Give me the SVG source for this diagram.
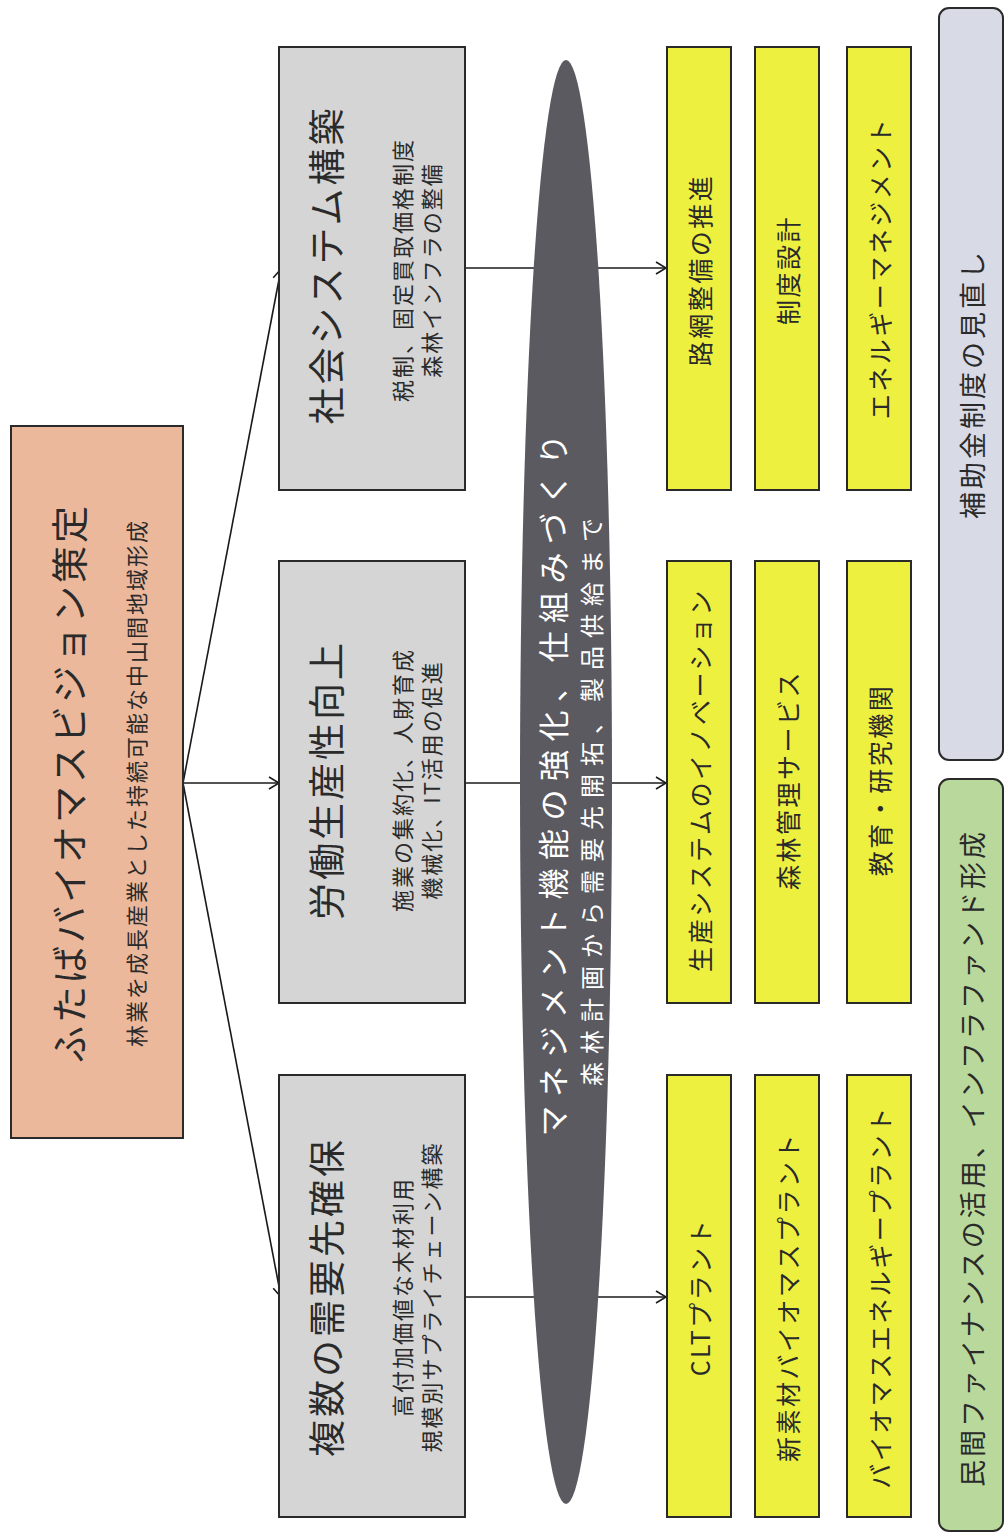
<svg xmlns="http://www.w3.org/2000/svg" width="1005" height="1535" viewBox="0 0 1005 1535">
<style>
text{font-family:"Noto Sans CJK JP","Noto Sans CJK SC",sans-serif;text-anchor:middle;dominant-baseline:central;fill:#2a2a2a}
.box{stroke:#2a2a2a;stroke-width:2}
.main{fill:#ebb89c}
.gray{fill:#d5d5d5}
.yel{fill:#eef040}
.t1{font-size:37px;letter-spacing:3px}
.t2{font-size:22px;letter-spacing:2px}
.ty{font-size:25px;letter-spacing:2.5px}
.tr{font-size:27px;letter-spacing:3px}
.conn{stroke:#1a1a1a;stroke-width:1.6;fill:none}
</style>
<defs>
<marker id="arr" markerWidth="14" markerHeight="14" refX="11" refY="7" orient="auto" markerUnits="userSpaceOnUse">
<path d="M1,1 L11,7 L1,13" fill="none" stroke="#1a1a1a" stroke-width="1.6"/>
</marker>
</defs>
<rect width="1005" height="1535" fill="#ffffff"/>
<g id="connectors">
<line class="conn" x1="183" y1="783" x2="281" y2="269" marker-end="url(#arr)"/>
<line class="conn" x1="183" y1="783" x2="279" y2="783" marker-end="url(#arr)"/>
<line class="conn" x1="183" y1="783" x2="281" y2="1297" marker-end="url(#arr)"/>
<line class="conn" x1="465" y1="268" x2="666" y2="268" marker-end="url(#arr)"/>
<line class="conn" x1="465" y1="783" x2="666" y2="783" marker-end="url(#arr)"/>
<line class="conn" x1="465" y1="1297" x2="666" y2="1297" marker-end="url(#arr)"/>
</g>
<g id="vision">
<rect class="box main" x="11" y="426" width="172" height="712"/>
<text class="t1" transform="translate(68,783) rotate(-90)">ふたばバイオマスビジョン策定</text>
<text class="t2" transform="translate(135,783) rotate(-90)">林業を成長産業とした持続可能な中山間地域形成</text>
</g>
<g id="social">
<rect class="box gray" x="279" y="47" width="186" height="443"/>
<text class="t1" transform="translate(325,265) rotate(-90)">社会システム構築</text>
<text class="t2" transform="translate(401,270) rotate(-90)">税制、固定買取価格制度</text>
<text class="t2" transform="translate(430,270) rotate(-90)">森林インフラの整備</text>
</g>
<g id="labor">
<rect class="box gray" x="279" y="561" width="186" height="442"/>
<text class="t1" transform="translate(325,780) rotate(-90)">労働生産性向上</text>
<text class="t2" transform="translate(401,780) rotate(-90)">施業の集約化、人財育成</text>
<text class="t2" transform="translate(430,780) rotate(-90)">機械化、IT活用の促進</text>
</g>
<g id="demand">
<rect class="box gray" x="279" y="1075" width="186" height="442"/>
<text class="t1" transform="translate(325,1297) rotate(-90)">複数の需要先確保</text>
<text class="t2" transform="translate(401,1297) rotate(-90)">高付加価値な木材利用</text>
<text class="t2" transform="translate(430,1297) rotate(-90)">規模別サプライチェーン構築</text>
</g>
<g id="management">
<ellipse cx="566" cy="782" rx="46" ry="722" fill="#5b5a60"/>
<text transform="translate(551,781) rotate(-90)" style="font-size:31px;letter-spacing:8.5px;fill:#ffffff">マネジメント機能の強化、仕組みづくり</text>
<text transform="translate(590,798) rotate(-90)" style="font-size:24px;letter-spacing:8px;fill:#ffffff">森林計画から需要先開拓、製品供給まで</text>
</g>
<g id="y-road"><rect class="box yel" x="667" y="47" width="64" height="443"/><text class="ty" transform="translate(699,270) rotate(-90)">路網整備の推進</text></g>
<g id="y-seido"><rect class="box yel" x="755" y="47" width="64" height="443"/><text class="ty" transform="translate(787,270) rotate(-90)">制度設計</text></g>
<g id="y-energy"><rect class="box yel" x="847" y="47" width="64" height="443"/><text class="ty" transform="translate(879,268) rotate(-90)">エネルギーマネジメント</text></g>
<g id="y-innov"><rect class="box yel" x="667" y="561" width="64" height="442"/><text class="ty" transform="translate(699,780) rotate(-90)">生産システムのイノベーション</text></g>
<g id="y-forest"><rect class="box yel" x="755" y="561" width="64" height="442"/><text class="ty" transform="translate(787,780) rotate(-90)">森林管理サービス</text></g>
<g id="y-edu"><rect class="box yel" x="847" y="561" width="64" height="442"/><text class="ty" transform="translate(879,780) rotate(-90)">教育・研究機関</text></g>
<g id="y-clt"><rect class="box yel" x="667" y="1075" width="64" height="442"/><text class="ty" transform="translate(699,1297) rotate(-90)">CLTプラント</text></g>
<g id="y-newmat"><rect class="box yel" x="755" y="1075" width="64" height="442"/><text class="ty" transform="translate(787,1297) rotate(-90)">新素材バイオマスプラント</text></g>
<g id="y-bioenergy"><rect class="box yel" x="847" y="1075" width="64" height="442"/><text class="ty" transform="translate(879,1297) rotate(-90)">バイオマスエネルギープラント</text></g>
<g id="subsidy">
<rect class="box" x="939" y="8" width="64" height="752" rx="10" fill="#d8dae6"/>
<text class="tr" transform="translate(971,384) rotate(-90)">補助金制度の見直し</text>
</g>
<g id="finance">
<rect class="box" x="939" y="779" width="64" height="752" rx="10" fill="#b9d89b"/>
<text class="tr" transform="translate(971,1158) rotate(-90)">民間ファイナンスの活用、インフラファンド形成</text>
</g>
</svg>
